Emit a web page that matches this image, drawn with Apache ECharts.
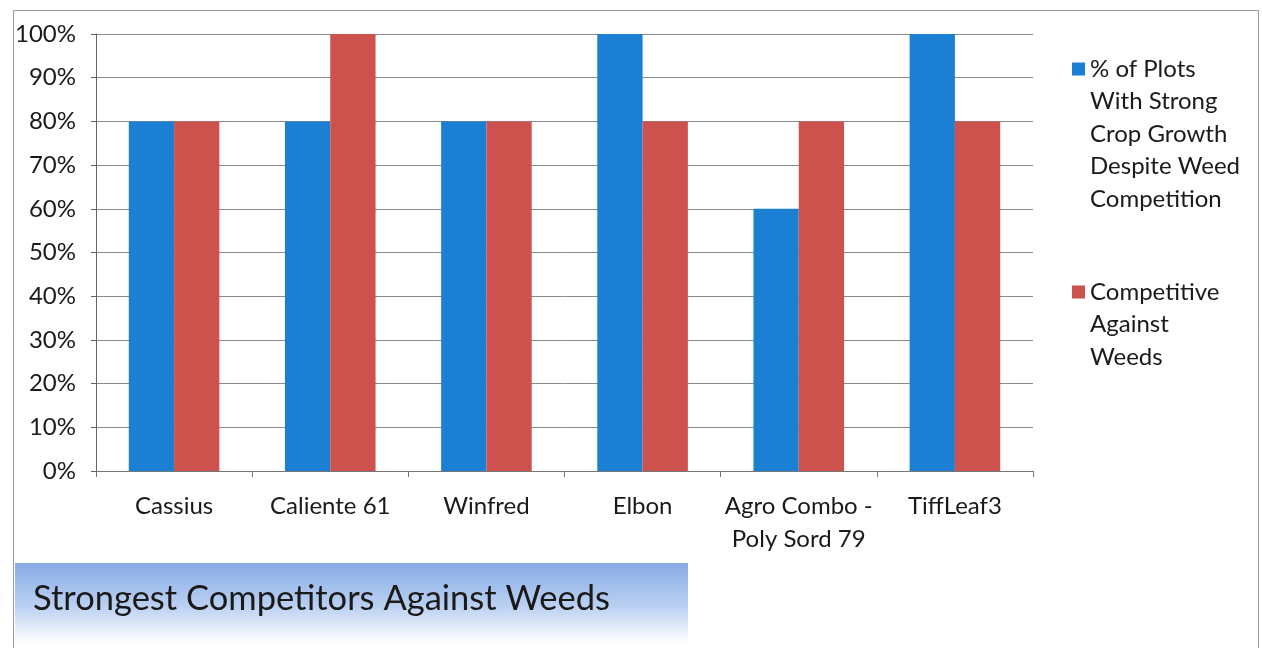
<!DOCTYPE html>
<html>
<head>
<meta charset="utf-8">
<script src="https://cdn.jsdelivr.net/npm/echarts@6/dist/echarts.min.js"></script>
<style>
  html, body { margin: 0; padding: 0; background: #fff; }
  #chart { width: 1262px; height: 648px; }
</style>
</head>
<body>
<div id="chart"></div>
<script>
var categories = ['Cassius', 'Caliente 61', 'Winfred', 'Elbon', 'Agro Combo -\nPoly Sord 79', 'TiffLeaf3'];
var strongGrowth = [80, 80, 80, 100, 60, 100];
var competitive = [80, 100, 80, 80, 80, 80];
var seriesNames = ['% of Plots\nWith Strong\nCrop Growth\nDespite Weed\nCompetition', 'Competitive\nAgainst\nWeeds'];
var titleText = 'Strongest Competitors Against Weeds';

var fontFam = 'Lato, "Open Sans", sans-serif';
var chart = echarts.init(document.getElementById('chart'));

// legend icons: square sits beside the first line of each (multi-line) label
var lineH = 32.5;
var boxH = 5 * lineH;
function squareAt(centerY) {
  var a = centerY - 6.5, b = centerY + 6.5;
  return 'path://M0,0M0,' + a + 'L13,' + a + 'L13,' + b + 'L0,' + b + 'ZM13,' + boxH;
}

var option = {
  animation: false,
  backgroundColor: '#fff',
  textStyle: { fontFamily: fontFam },
  grid: { left: 96, right: 229, top: 34, bottom: 177 },
  legend: {
    orient: 'vertical',
    left: 1072,
    top: 52.75,
    padding: 0,
    itemWidth: 13,
    itemHeight: boxH,
    itemGap: 28,
    textStyle: { fontSize: 24, color: '#1a1a1a', lineHeight: lineH, fontFamily: fontFam },
    data: [
      { name: seriesNames[0], icon: squareAt(lineH / 2) },
      { name: seriesNames[1], icon: squareAt(lineH + lineH / 2) }
    ]
  },
  xAxis: {
    type: 'category',
    data: categories,
    axisLine: { lineStyle: { color: '#777', width: 1 } },
    axisTick: { show: true, length: 6, lineStyle: { color: '#777' } },
    axisLabel: { fontSize: 24, color: '#1a1a1a', margin: 19, lineHeight: 33, interval: 0, fontFamily: fontFam }
  },
  yAxis: {
    type: 'value',
    min: 0,
    max: 100,
    interval: 10,
    axisLine: { show: true, lineStyle: { color: '#666', width: 1 } },
    axisTick: { show: true, length: 5, lineStyle: { color: '#666' } },
    axisLabel: { fontSize: 24, color: '#1a1a1a', margin: 20, formatter: '{value}%', fontFamily: fontFam },
    splitLine: { lineStyle: { color: '#8a8a8a', width: 1 } }
  },
  series: [
    {
      name: seriesNames[0],
      type: 'bar',
      data: strongGrowth,
      barGap: '0%',
      barCategoryGap: '42%',
      itemStyle: { color: '#1b7fd3' }
    },
    {
      name: seriesNames[1],
      type: 'bar',
      data: competitive,
      itemStyle: { color: '#cd524e' }
    }
  ],
  graphic: [
    {
      type: 'rect',
      shape: { x: 13.5, y: 10.5, width: 1245, height: 640 },
      style: { fill: 'none', stroke: '#999', lineWidth: 1 },
      silent: true,
      z: -1
    },
    {
      type: 'rect',
      shape: { x: 15, y: 563, width: 673, height: 80 },
      style: {
        fill: new echarts.graphic.LinearGradient(0, 0, 0, 1, [
          { offset: 0, color: '#87abe6' },
          { offset: 0.55, color: '#bcd1f2' },
          { offset: 1, color: '#ffffff' }
        ])
      },
      silent: true
    },
    {
      type: 'text',
      x: 33,
      y: 599,
      style: { text: titleText, fontSize: 34.5, fill: '#1a1a1a', fontFamily: fontFam, verticalAlign: 'middle' }
    }
  ]
};

chart.setOption(option);
</script>
</body>
</html>
